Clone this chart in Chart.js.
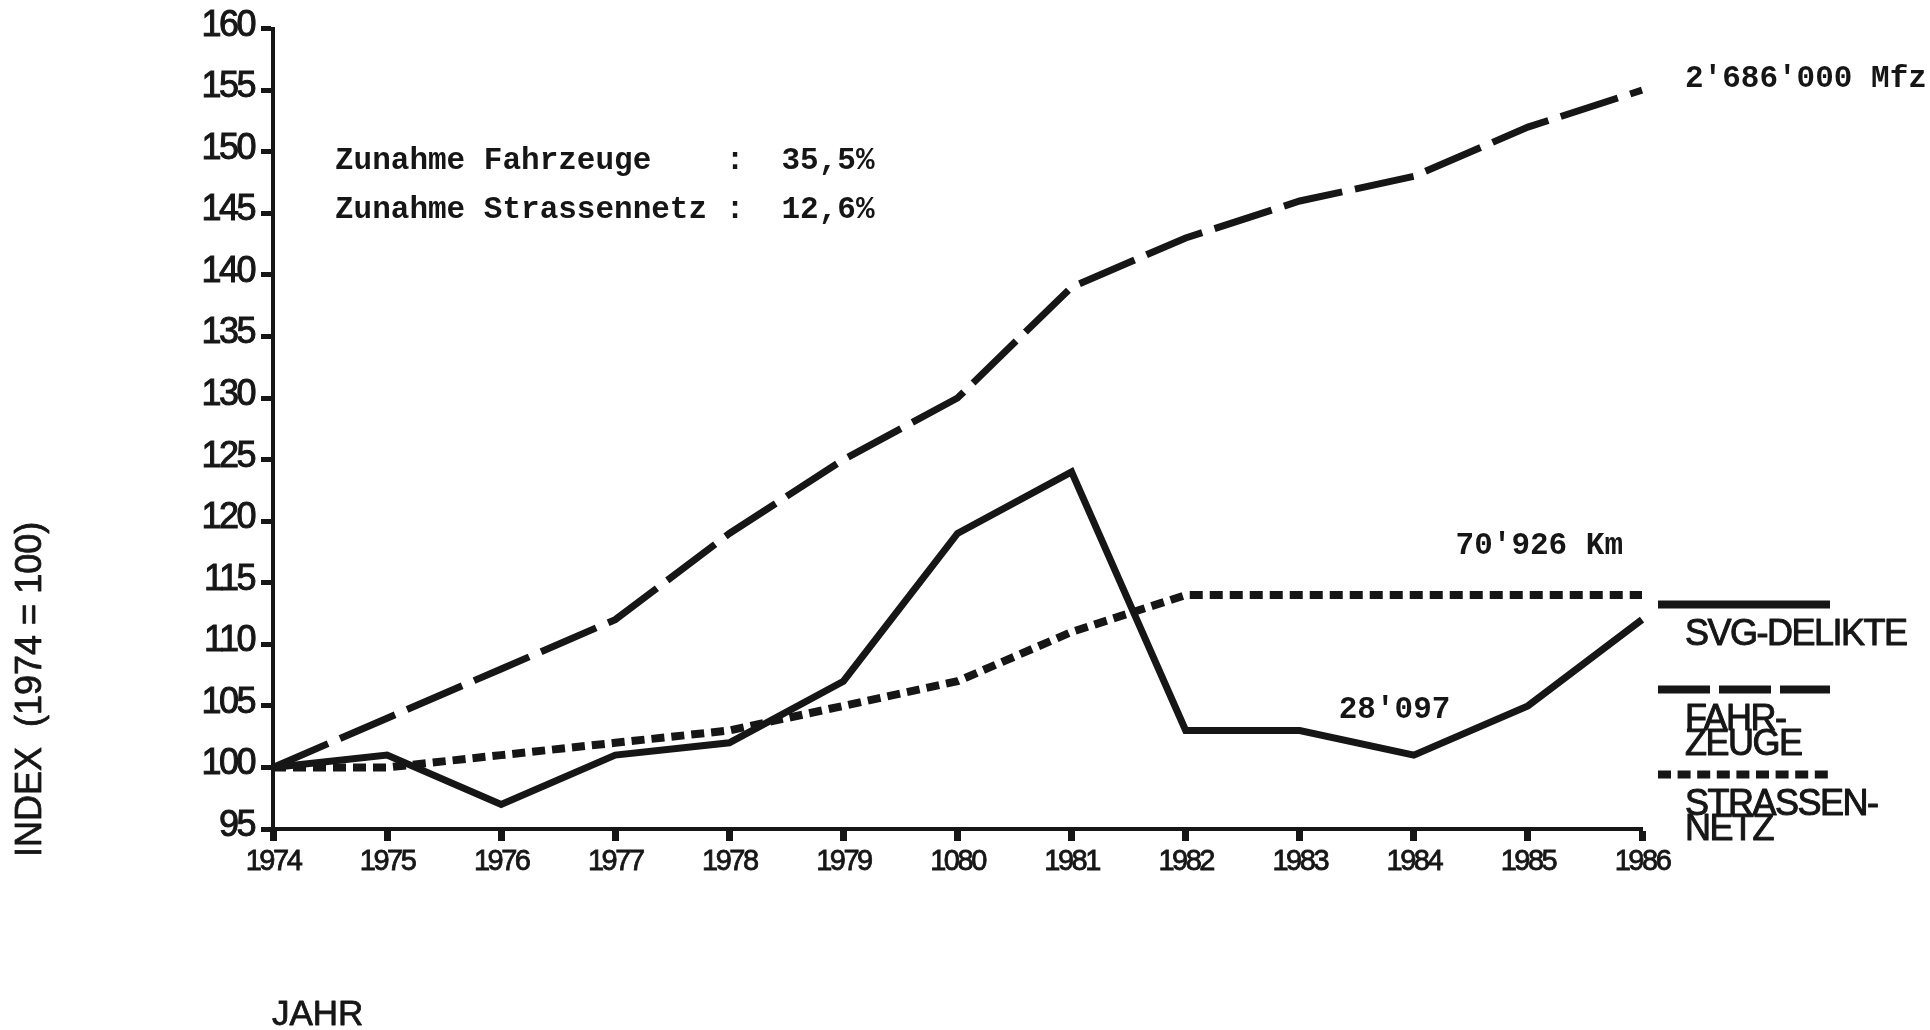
<!DOCTYPE html>
<html lang="de">
<head>
<meta charset="utf-8">
<title>SVG-Delikte, Fahrzeuge und Strassennetz 1974–1986</title>
<script src="https://cdn.jsdelivr.net/npm/chart.js@4.4.1/dist/chart.umd.min.js"></script>
<style>
  html, body { margin: 0; padding: 0; background: #fff; }
  canvas { display: block; }
</style>
</head>
<body>
<canvas id="chart" width="1930" height="1030"></canvas>
<script>
// Index values, 1974 = 100
const years = ['1974', '1975', '1976', '1977', '1978', '1979', '1080', '1981', '1982', '1983', '1984', '1985', '1986'];
const svgDelikte = [100, 101, 97, 101, 102, 107, 119, 124, 103, 103, 101, 105, 112];
const fahrzeuge = [100, 104, 108, 112, 119, 125, 130, 139, 143, 146, 148, 152, 155];
const strassennetz = [100, 100, 101, 102, 103, 105, 107, 111, 114, 114, 114, 114, 114];
const yTicks = [95, 100, 105, 110, 115, 120, 125, 130, 135, 140, 145, 150, 155, 160];

const zunahmeLines = ['Zunahme Fahrzeuge    :  35,5%', 'Zunahme Strassennetz :  12,6%'];
const endFahrzeuge = "2'686'000 Mfz";
const endStrassen = "70'926 Km";
const endDelikte = "28'097";

const INK = '#161616';
const SANS = "'Liberation Sans', Arial, sans-serif";
const MONO = "'Liberation Mono', 'Courier New', monospace";

// tighter letter spacing for the tick labels (the print uses a condensed face)
const tightTicks = {
  id: 'tightTicks',
  beforeDraw(chart) {
    chart.ctx.letterSpacing = '-2.5px';
  }
};

// filled text with a thin outline, to get the heavier print look
function inkText(ctx, text, x, y, w) {
  ctx.fillText(text, x, y);
  ctx.lineWidth = w;
  ctx.strokeText(text, x, y);
}

// texts inside the plot, the legend on the right and the two axis titles
const annotations = {
  id: 'annotations',
  afterDraw(chart) {
    const { ctx, chartArea: a, scales: { x, y } } = chart;
    const xEnd = x.getPixelForValue(years.length - 1);
    ctx.save();
    ctx.letterSpacing = '0px';
    ctx.fillStyle = INK;
    ctx.strokeStyle = INK;
    ctx.textBaseline = 'alphabetic';
    ctx.lineJoin = 'round';

    ctx.font = 'bold 31px ' + MONO;
    ctx.textAlign = 'left';
    ctx.fillText(zunahmeLines[0], a.left + 62, a.top + 140);
    ctx.fillText(zunahmeLines[1], a.left + 62, a.top + 189);
    ctx.fillText(endFahrzeuge, xEnd + 43, y.getPixelForValue(155) - 3);
    ctx.fillText(endDelikte, x.getPixelForValue(9) + 39, y.getPixelForValue(103) - 12);
    ctx.textAlign = 'right';
    ctx.fillText(endStrassen, xEnd - 19, y.getPixelForValue(114) - 41);

    // legend
    const lx = a.right + 16, lw = 172;
    let ly = a.top + 576;
    ctx.textAlign = 'left';
    ctx.font = '36px ' + SANS;
    ctx.letterSpacing = '-1.5px';
    chart.data.datasets.forEach(ds => {
      ctx.lineWidth = 8;
      ctx.lineCap = 'butt';
      ctx.setLineDash(ds.legendDash);
      ctx.beginPath();
      ctx.moveTo(lx, ly);
      ctx.lineTo(lx + lw, ly);
      ctx.stroke();
      ctx.setLineDash([]);
      ds.legendText.forEach((t, i) => {
        inkText(ctx, t, lx + 27, ly + 40 + i * 25, 1);
      });
      ly += 85;
    });

    // axis titles
    ctx.letterSpacing = '0px';
    ctx.font = '35px ' + SANS;
    inkText(ctx, 'JAHR', a.left - 1, 1025, 0.8);
    ctx.translate(41, a.bottom + 28);
    ctx.rotate(-Math.PI / 2);
    ctx.font = '36px ' + SANS;
    inkText(ctx, 'INDEX  (1974 = 100)', 0, 0, 0.8);
    ctx.restore();
    ctx.letterSpacing = '0px';
  }
};

new Chart(document.getElementById('chart'), {
  type: 'line',
  data: {
    labels: years,
    datasets: [
      {
        label: 'SVG-DELIKTE',
        legendText: ['SVG-DELIKTE'],
        legendDash: [],
        data: svgDelikte,
        borderColor: INK,
        borderWidth: 7
      },
      {
        label: 'FAHRZEUGE',
        legendText: ['FAHR-', 'ZEUGE'],
        legendDash: [52, 9],
        data: fahrzeuge,
        borderColor: INK,
        borderWidth: 7,
        borderDash: [60, 13]
      },
      {
        label: 'STRASSENNETZ',
        legendText: ['STRASSEN-', 'NETZ'],
        legendDash: [13, 6.6],
        data: strassennetz,
        borderColor: INK,
        borderWidth: 8,
        borderDash: [13, 7]
      }
    ]
  },
  options: {
    responsive: false,
    animation: false,
    devicePixelRatio: 1,
    layout: { padding: { left: 0, top: 26, right: 288, bottom: 0 } },
    elements: {
      point: { radius: 0 },
      line: { tension: 0, fill: false, borderCapStyle: 'butt', borderJoinStyle: 'miter' }
    },
    datasets: { line: { clip: false } },
    plugins: {
      legend: { display: false },
      tooltip: { enabled: false }
    },
    scales: {
      x: {
        type: 'category',
        offset: false,
        afterFit: s => { s.height = 201; },
        border: { display: true, color: INK, width: 4 },
        grid: { drawOnChartArea: false, drawTicks: true, tickLength: 12, tickWidth: 7, tickColor: INK, color: INK },
        ticks: {
          color: INK,
          autoSkip: false,
          maxRotation: 0,
          padding: 4,
          textStrokeColor: INK,
          textStrokeWidth: 0.8,
          font: { family: SANS, size: 29 }
        }
      },
      y: {
        min: 95,
        max: 160,
        afterFit: s => { s.width = 273; },
        afterBuildTicks: s => { s.ticks = yTicks.map(v => ({ value: v })); },
        border: { display: true, color: INK, width: 4 },
        grid: { drawOnChartArea: false, drawTicks: true, tickLength: 12, tickWidth: 5, tickColor: INK, color: INK },
        ticks: {
          color: INK,
          padding: 7,
          labelOffset: -3,
          textStrokeColor: INK,
          textStrokeWidth: 1,
          font: { family: SANS, size: 36 }
        }
      }
    }
  },
  plugins: [tightTicks, annotations]
});
</script>
</body>
</html>
